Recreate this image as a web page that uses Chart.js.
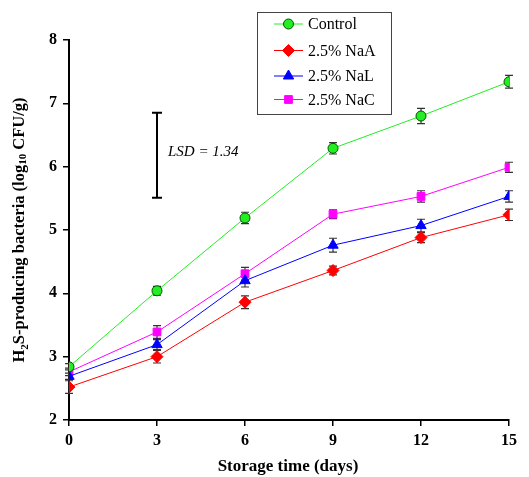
<!DOCTYPE html>
<html><head><meta charset="utf-8">
<script src="https://cdn.jsdelivr.net/npm/chart.js@4/dist/chart.umd.min.js"></script>
<style>html,body{margin:0;padding:0;background:#fff}#wrap{width:529px;height:477px;position:relative}</style>
</head><body><div id="wrap"><canvas id="c" width="529" height="477"></canvas></div>
<script>
const days = [0, 3, 6, 9, 12, 15];
const seriesNames = ['Control', '2.5% NaA', '2.5% NaL', '2.5% NaC'];
const control = [2.84, 4.04, 5.19, 6.29, 6.80, 7.34];
const naA = [2.52, 3.00, 3.86, 4.36, 4.88, 5.24];
const naL = [2.69, 3.19, 4.20, 4.76, 5.07, 5.53];
const naC = [2.76, 3.39, 4.31, 5.25, 5.53, 5.99];
const controlErr = [0.05, 0.07, 0.09, 0.09, 0.12, 0.10];
const naAErr = [0.10, 0.10, 0.10, 0.07, 0.08, 0.09];
const naLErr = [0.05, 0.08, 0.10, 0.11, 0.10, 0.09];
const naCErr = [0.06, 0.10, 0.10, 0.07, 0.09, 0.08];
const yTicks = [2, 3, 4, 5, 6, 7, 8];
const xTicks = [0, 3, 6, 9, 12, 15];
const lsdDay = 3;
const lsdLow = 5.51;
const lsdValue = 1.34;

const styles = [
  {line:'#22ee22', fill:'#22ee22', border:'#005500', ps:'circle', r:5},
  {line:'#ff0000', fill:'#ff0000', border:'#ff0000', ps:'rectRot', r:6},
  {line:'#0000ff', fill:'#0000ff', border:'#0000ff', ps:'triangle', r:6},
  {line:'#ff00ff', fill:'#ff00ff', border:'#ff00ff', ps:'rect', r:5.5}
];
const allVals = [control, naA, naL, naC];
const allErr = [controlErr, naAErr, naLErr, naCErr];

const datasets = allVals.map((vals, i) => ({
  label: seriesNames[i],
  data: vals.map((v, j) => ({x: days[j], y: v})),
  errs: allErr[i],
  borderColor: styles[i].line,
  backgroundColor: styles[i].fill,
  pointBorderColor: styles[i].border,
  pointBackgroundColor: styles[i].fill,
  pointStyle: styles[i].ps,
  pointRadius: styles[i].r,
  pointBorderWidth: 1,
  borderWidth: 1,
  tension: 0
}));

const serif = '"Liberation Serif", "Times New Roman", serif';

const errorBars = {
  id: 'errorBars',
  beforeDatasetsDraw(chart) {
    const ctx = chart.ctx, xs = chart.scales.x, ys = chart.scales.y;
    ctx.save();
    ctx.strokeStyle = '#333';
    ctx.lineWidth = 1.2;
    chart.data.datasets.forEach(ds => {
      ds.data.forEach((p, j) => {
        const x = xs.getPixelForValue(p.x);
        const y1 = ys.getPixelForValue(p.y + ds.errs[j]);
        const y2 = ys.getPixelForValue(p.y - ds.errs[j]);
        ctx.beginPath();
        ctx.moveTo(x, y1); ctx.lineTo(x, y2);
        ctx.moveTo(x - 4, y1); ctx.lineTo(x + 4, y1);
        ctx.moveTo(x - 4, y2); ctx.lineTo(x + 4, y2);
        ctx.stroke();
      });
    });
    // LSD bar
    const lx = xs.getPixelForValue(lsdDay);
    const ly1 = ys.getPixelForValue(lsdLow);
    const ly2 = ys.getPixelForValue(lsdLow + lsdValue);
    ctx.strokeStyle = '#000';
    ctx.lineWidth = 2;
    ctx.beginPath();
    ctx.moveTo(lx, ly1); ctx.lineTo(lx, ly2);
    ctx.moveTo(lx - 5, ly1); ctx.lineTo(lx + 5, ly1);
    ctx.moveTo(lx - 5, ly2); ctx.lineTo(lx + 5, ly2);
    ctx.stroke();
    ctx.fillStyle = '#000';
    ctx.font = 'italic 15px ' + serif;
    ctx.textBaseline = 'middle';
    ctx.textAlign = 'left';
    ctx.fillText('LSD = ' + lsdValue.toFixed(2), lx + 11, ys.getPixelForValue(lsdLow + lsdValue * 0.5) - 3);
    ctx.restore();
  }
};

const extras = {
  id: 'extras',
  afterDraw(chart) {
    const ctx = chart.ctx;
    ctx.save();
    // Legend box
    const bx = 257, by = 12, bw = 134, bh = 102;
    ctx.fillStyle = '#fff';
    ctx.fillRect(bx, by, bw, bh);
    ctx.strokeStyle = '#444';
    ctx.lineWidth = 1;
    ctx.strokeRect(bx + 0.5, by + 0.5, bw, bh);
    const rows = [24, 50.5, 76, 99.5];
    chart.data.datasets.forEach((ds, i) => {
      const y = rows[i];
      ctx.strokeStyle = ds.borderColor;
      ctx.lineWidth = 1;
      ctx.beginPath(); ctx.moveTo(274, y); ctx.lineTo(303, y); ctx.stroke();
      ctx.fillStyle = ds.pointBackgroundColor;
      ctx.strokeStyle = ds.pointBorderColor;
      Chart.helpers.drawPoint(ctx, {pointStyle: ds.pointStyle, radius: ds.pointRadius, rotation: 0, borderWidth: 1}, 288.5, y);
      ctx.fillStyle = '#000';
      ctx.font = '16px ' + serif;
      ctx.textBaseline = 'middle';
      ctx.textAlign = 'left';
      ctx.fillText(ds.label, 308, y + 1);
    });
    // X title
    ctx.fillStyle = '#000';
    ctx.font = 'bold 17px ' + serif;
    ctx.textAlign = 'center';
    ctx.textBaseline = 'middle';
    ctx.fillText('Storage time (days)', 288, 467);
    // Y title with subscripts
    ctx.translate(20, 230);
    ctx.rotate(-Math.PI / 2);
    const big = 'bold 16.5px ' + serif, small = 'bold 11px ' + serif;
    const parts = [['H', big, 0], ['2', small, 5], ['S-producing bacteria (log', big, 0], ['10', small, 3], [' CFU/g)', big, 0]];
    let total = 0;
    parts.forEach(p => { ctx.font = p[1]; total += ctx.measureText(p[0]).width; });
    let cx = -total / 2;
    ctx.textAlign = 'left';
    ctx.textBaseline = 'middle';
    parts.forEach(p => { ctx.font = p[1]; ctx.fillText(p[0], cx, p[2]); cx += ctx.measureText(p[0]).width; });
    ctx.restore();
  }
};

new Chart(document.getElementById('c'), {
  type: 'line',
  data: { datasets },
  options: {
    responsive: false,
    animation: false,
    layout: { padding: { top: 40, right: 20, left: 0, bottom: 0 } },
    plugins: { legend: { display: false }, tooltip: { enabled: false } },
    scales: {
      x: {
        type: 'linear', min: 0, max: 15,
        afterBuildTicks: s => { s.ticks = xTicks.map(v => ({value: v})); },
        afterFit: s => { s.height = 57; },
        grid: { display: true, drawOnChartArea: false, drawTicks: true, tickLength: 6, color: '#000', lineWidth: 1.5 },
        border: { display: true, color: '#000', width: 2 },
        ticks: { color: '#000', font: { family: serif, size: 16, weight: 'bold' }, padding: 5, maxRotation: 0 }
      },
      y: {
        type: 'linear', min: 2, max: 8,
        afterBuildTicks: s => { s.ticks = yTicks.map(v => ({value: v})); },
        afterFit: s => { s.width = 69; },
        grid: { display: true, drawOnChartArea: false, drawTicks: true, tickLength: 6, color: '#000', lineWidth: 1.5 },
        border: { display: true, color: '#000', width: 2 },
        ticks: { color: '#000', font: { family: serif, size: 16, weight: 'bold' }, padding: 6 }
      }
    }
  },
  plugins: [errorBars, extras]
});
</script></body></html>
